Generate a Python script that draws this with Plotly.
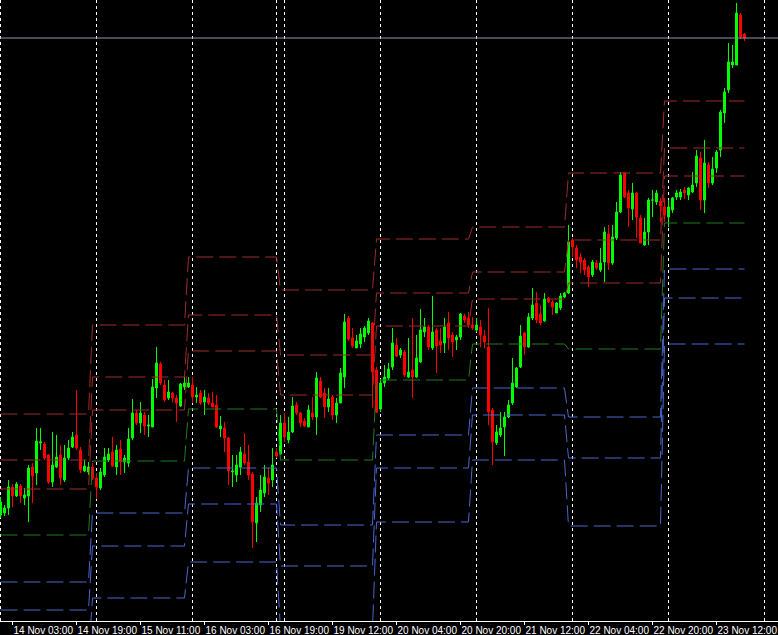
import plotly.graph_objects as go

# hourly candles, 14 Nov 00:00 .. 23 Nov 18:00 (bar index = position on the chart)
opens = [80.225, 80.235, 80.260, 80.365, 80.320, 80.370, 80.310, 80.320, 80.465, 80.435,
         80.585, 80.580, 80.525, 80.390, 80.465, 80.525, 80.400, 80.510, 80.565, 80.625,
         80.550, 80.445, 80.440, 80.465, 80.410, 80.360, 80.425, 80.500, 80.540, 80.465,
         80.555, 80.490, 80.485, 80.610, 80.735, 80.685, 80.725, 80.670, 80.665, 80.860,
         80.980, 80.875, 80.810, 80.835, 80.810, 80.770, 80.865, 80.865, 80.875, 80.815,
         80.835, 80.790, 80.810, 80.785, 80.775, 80.655, 80.660, 80.610, 80.440, 80.425,
         80.465, 80.530, 80.490, 80.430, 80.185, 80.275, 80.335, 80.410, 80.400, 80.540,
         80.530, 80.685, 80.600, 80.640, 80.775, 80.735, 80.695, 80.665, 80.735, 80.715,
         80.895, 80.835, 80.765, 80.815, 80.725, 80.785, 80.915, 81.210, 81.110, 81.060,
         81.080, 81.115, 81.135, 81.185, 80.950, 80.755, 80.885, 80.910, 80.965, 81.075,
         81.025, 81.040, 80.915, 80.950, 80.915, 80.990, 81.140, 81.165, 81.060, 81.150,
         81.095, 81.085, 81.185, 81.125, 81.100, 81.115, 81.220, 81.210, 81.175, 81.150,
         81.165, 81.120, 81.065, 80.750, 80.585, 80.625, 80.665, 80.715, 80.785, 80.865,
         80.965, 81.135, 81.065, 81.210, 81.285, 81.230, 81.195, 81.310, 81.290, 81.235,
         81.260, 81.315, 81.335, 81.600, 81.560, 81.515, 81.500, 81.465, 81.425, 81.485,
         81.450, 81.490, 81.630, 81.485, 81.610, 81.740, 81.935, 81.835, 81.755, 81.835,
         81.710, 81.575, 81.640, 81.800, 81.790, 81.795, 81.765, 81.715, 81.750, 81.815,
         81.815, 81.850, 81.825, 81.840, 81.885, 82.010, 81.800, 81.975, 81.885, 81.960,
         82.050, 82.235, 82.350, 82.475, 82.475, 82.725, 82.630]
highs = [80.315, 80.275, 80.400, 80.380, 80.390, 80.380, 80.360, 80.475, 80.485, 80.660,
         80.660, 80.590, 80.530, 80.640, 80.625, 80.575, 80.575, 80.600, 80.640, 80.850,
         80.565, 80.500, 80.490, 80.485, 80.435, 80.460, 80.560, 80.560, 80.615, 80.575,
         80.600, 80.525, 80.660, 80.805, 80.750, 80.790, 80.740, 80.725, 80.905, 81.065,
         80.990, 80.900, 80.900, 80.840, 80.825, 80.885, 80.915, 80.915, 80.915, 80.865,
         80.850, 80.850, 80.835, 80.840, 80.825, 80.720, 80.690, 80.615, 80.525, 80.525,
         80.565, 80.635, 80.575, 80.440, 80.315, 80.425, 80.475, 80.460, 80.560, 80.560,
         80.725, 80.735, 80.715, 80.815, 80.790, 80.740, 80.710, 80.775, 80.815, 80.940,
         80.915, 80.860, 80.860, 80.825, 80.810, 80.960, 81.230, 81.220, 81.160, 81.125,
         81.160, 81.170, 81.210, 81.190, 80.965, 80.905, 80.975, 80.985, 81.160, 81.110,
         81.060, 81.050, 81.110, 81.210, 81.125, 81.255, 81.210, 81.175, 81.320, 81.160,
         81.160, 81.210, 81.240, 81.140, 81.125, 81.235, 81.230, 81.240, 81.215, 81.210,
         81.200, 81.150, 81.260, 80.760, 80.675, 80.740, 80.740, 80.800, 81.010, 80.965,
         81.175, 81.140, 81.235, 81.360, 81.340, 81.275, 81.335, 81.315, 81.300, 81.290,
         81.335, 81.340, 81.675, 81.610, 81.575, 81.535, 81.510, 81.475, 81.500, 81.500,
         81.560, 81.665, 81.675, 81.675, 81.790, 81.940, 81.940, 81.850, 81.885, 81.840,
         81.725, 81.710, 81.810, 81.850, 81.850, 81.810, 81.810, 81.800, 81.815, 81.850,
         81.855, 81.865, 81.865, 81.940, 82.050, 82.040, 82.100, 81.990, 82.015, 82.050,
         82.250, 82.360, 82.585, 82.575, 82.785, 82.735, 82.635]
lows = [80.210, 80.220, 80.225, 80.265, 80.315, 80.285, 80.275, 80.190, 80.285, 80.375,
        80.550, 80.500, 80.380, 80.365, 80.460, 80.375, 80.390, 80.500, 80.560, 80.550,
        80.435, 80.440, 80.425, 80.400, 80.305, 80.350, 80.415, 80.490, 80.465, 80.425,
        80.425, 80.435, 80.465, 80.600, 80.675, 80.635, 80.625, 80.615, 80.665, 80.810,
        80.875, 80.790, 80.800, 80.790, 80.690, 80.765, 80.850, 80.860, 80.785, 80.785,
        80.775, 80.725, 80.775, 80.765, 80.660, 80.615, 80.540, 80.375, 80.365, 80.390,
        80.425, 80.475, 80.400, 80.060, 80.090, 80.240, 80.315, 80.325, 80.365, 80.510,
        80.525, 80.590, 80.585, 80.635, 80.725, 80.665, 80.665, 80.665, 80.700, 80.625,
        80.810, 80.710, 80.740, 80.700, 80.685, 80.785, 80.860, 81.095, 81.060, 81.060,
        81.060, 81.090, 81.125, 80.760, 80.735, 80.740, 80.865, 80.900, 80.950, 81.015,
        81.010, 80.915, 80.910, 80.810, 80.910, 80.985, 81.115, 81.050, 81.050, 80.935,
        81.035, 81.035, 81.050, 81.015, 81.050, 81.100, 81.185, 81.160, 81.150, 81.140,
        81.065, 81.060, 80.675, 80.475, 80.575, 80.615, 80.520, 80.710, 80.775, 80.860,
        80.960, 81.025, 81.060, 81.200, 81.185, 81.175, 81.190, 81.285, 81.225, 81.235,
        81.250, 81.310, 81.330, 81.515, 81.460, 81.435, 81.425, 81.365, 81.415, 81.450,
        81.440, 81.390, 81.450, 81.475, 81.600, 81.735, 81.810, 81.665, 81.700, 81.610,
        81.585, 81.570, 81.575, 81.715, 81.775, 81.690, 81.690, 81.665, 81.735, 81.800,
        81.800, 81.805, 81.800, 81.835, 81.865, 81.750, 81.735, 81.860, 81.875, 81.935,
        82.015, 82.185, 82.335, 82.460, 82.475, 82.605, 82.595]
closes = [80.290, 80.260, 80.365, 80.320, 80.380, 80.320, 80.325, 80.460, 80.420, 80.595,
          80.590, 80.510, 80.390, 80.475, 80.515, 80.410, 80.510, 80.560, 80.615, 80.560,
          80.450, 80.470, 80.465, 80.410, 80.365, 80.440, 80.515, 80.530, 80.470, 80.550,
          80.490, 80.510, 80.605, 80.735, 80.685, 80.735, 80.670, 80.675, 80.865, 80.985,
          80.885, 80.800, 80.840, 80.810, 80.785, 80.880, 80.885, 80.885, 80.815, 80.825,
          80.785, 80.815, 80.785, 80.765, 80.665, 80.670, 80.610, 80.445, 80.445, 80.475,
          80.540, 80.485, 80.425, 80.190, 80.285, 80.350, 80.415, 80.385, 80.475, 80.520,
          80.685, 80.615, 80.640, 80.770, 80.735, 80.685, 80.670, 80.750, 80.715, 80.910,
          80.815, 80.765, 80.805, 80.725, 80.785, 80.935, 81.190, 81.105, 81.070, 81.095,
          81.130, 81.160, 81.195, 80.940, 80.740, 80.885, 80.915, 80.955, 81.085, 81.020,
          81.050, 80.925, 80.940, 80.915, 81.010, 81.150, 81.165, 81.065, 81.140, 81.070,
          81.075, 81.165, 81.110, 81.090, 81.115, 81.230, 81.200, 81.175, 81.160, 81.175,
          81.125, 81.090, 80.740, 80.590, 80.640, 80.660, 80.715, 80.775, 80.885, 80.960,
          81.120, 81.065, 81.215, 81.275, 81.200, 81.185, 81.305, 81.290, 81.265, 81.285,
          81.320, 81.335, 81.590, 81.565, 81.500, 81.490, 81.450, 81.415, 81.490, 81.460,
          81.485, 81.640, 81.485, 81.615, 81.740, 81.925, 81.815, 81.760, 81.835, 81.715,
          81.585, 81.640, 81.800, 81.800, 81.835, 81.770, 81.725, 81.765, 81.810, 81.835,
          81.840, 81.835, 81.860, 81.875, 82.020, 81.800, 81.985, 81.885, 81.955, 82.040,
          82.240, 82.340, 82.490, 82.490, 82.735, 82.615, 82.610]
bars = list(range(len(closes)))
bid = 82.610

# daily pivot levels, each day starting at the given bar
day_start = [0, 23, 47, 70, 94, 118, 142, 166]
r3 = [80.730, 81.175, 81.515, 81.350, 81.605, 81.665, 81.935, 82.295]
r2 = [80.500, 80.915, 81.225, 81.025, 81.335, 81.440, 81.600, 82.060]
r1 = [80.355, 80.750, 81.045, 80.825, 81.170, 81.305, 81.385, 81.920]
pp = [80.125, 80.495, 80.755, 80.500, 80.900, 81.080, 81.055, 81.685]
s1 = [79.890, 80.235, 80.460, 80.175, 80.625, 80.860, 80.715, 81.455]
s2 = [79.750, 80.070, 80.280, 79.970, 80.460, 80.725, 80.510, 81.310]
s3 = [79.520, 79.810, 79.990, 79.655, 80.190, 80.500, 80.170, 81.080]

tick_bars = [3, 19, 35, 51, 67, 83, 99, 115, 131, 147, 163, 179]
tick_text = ["14 Nov 03:00", "14 Nov 19:00", "15 Nov 11:00", "16 Nov 03:00",
             "16 Nov 19:00", "19 Nov 12:00", "20 Nov 04:00", "20 Nov 20:00",
             "21 Nov 12:00", "22 Nov 04:00", "22 Nov 20:00", "23 Nov 12:00"]
grid_bars = [0, 24, 48, 69, 71, 95, 119, 143, 167, 191]


def per_bar(levels):
    out = []
    for k, v in enumerate(levels):
        end = day_start[k + 1] if k + 1 < len(day_start) else len(bars)
        out += [v] * (end - day_start[k])
    return out


fig = go.Figure()

for g in grid_bars:
    fig.add_shape(type="line", x0=g, x1=g, y0=0, y1=1, yref="paper",
                  line=dict(color="white", width=1, dash="3px,3px"), layer="below")

piv = [(r3, "#a02a2a"), (r2, "#a02a2a"), (r1, "#a02a2a"), (pp, "#1f7a1f"),
       (s1, "#4a66d0"), (s2, "#4a66d0"), (s3, "#4a66d0")]
for lv, col in piv:
    fig.add_trace(go.Scatter(x=bars, y=per_bar(lv), mode="lines", hoverinfo="skip",
                             line=dict(color=col, width=1, dash="17px,6px")))

fig.add_trace(go.Candlestick(
    x=bars, open=opens, high=highs, low=lows, close=closes,
    increasing=dict(line=dict(color="#00ff00", width=1), fillcolor="#00ff00"),
    decreasing=dict(line=dict(color="#ff0000", width=1), fillcolor="#ff0000"),
    whiskerwidth=0,
))

fig.add_hline(y=bid, line=dict(color="#8a98aa", width=1))

fig.update_layout(
    width=778, height=635,
    margin=dict(l=0, r=0, t=0, b=14),
    paper_bgcolor="black", plot_bgcolor="black",
    showlegend=False,
    xaxis=dict(range=[-0.125, 194.375], rangeslider=dict(visible=False),
               showgrid=False, zeroline=False, automargin=False,
               showline=True, linecolor="white", linewidth=1,
               ticks="outside", ticklen=3, tickcolor="white", tickangle=0,
               tickvals=tick_bars, ticktext=tick_text,
               ticklabelposition="outside right",
               tickfont=dict(family="Liberation Sans", size=10, color="white")),
    yaxis=dict(range=[79.695, 82.80], visible=False),
)

fig.write_html("out.html", config={"displayModeBar": False},
               post_script="document.body.style.margin='0';")
